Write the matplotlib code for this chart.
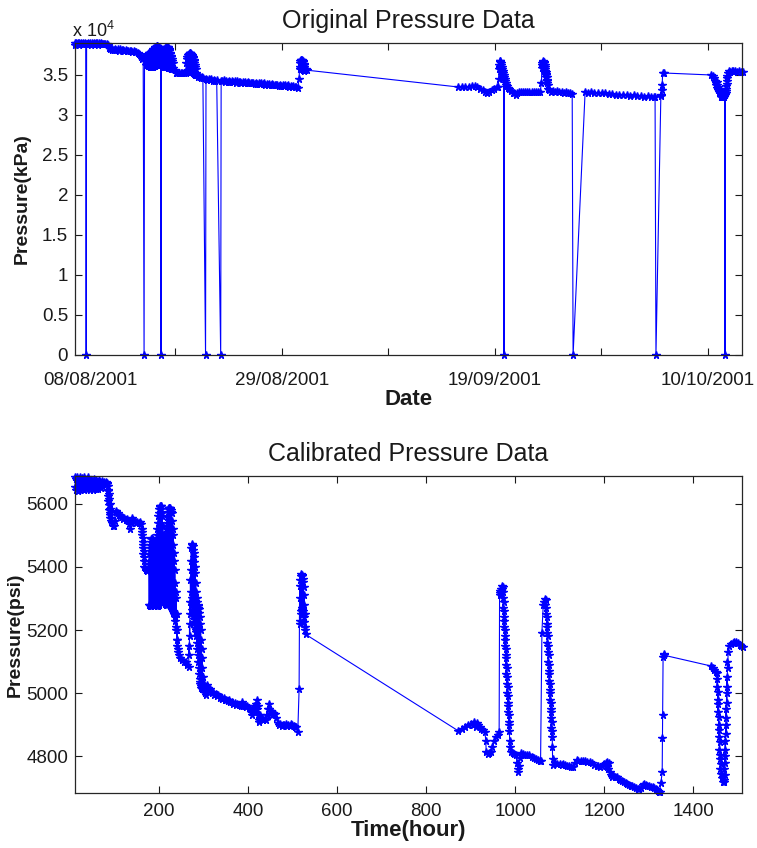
import matplotlib
matplotlib.use('Agg')
import matplotlib.pyplot as plt
from matplotlib.ticker import FuncFormatter

plt.rcParams['font.family'] = ['Liberation Sans', 'DejaVu Sans']
plt.rcParams['mathtext.fontset'] = 'custom'
plt.rcParams['mathtext.rm'] = 'Liberation Sans'
plt.rcParams['mathtext.it'] = 'Liberation Sans'

# ---------------- Original pressure data (hour, kPa) ----------------
orig_a = [(12,38950),(13,38800),(14,38980),(16,38850),(18,38950),(20,38800),(22,38990),(24,38850),
          (26,38950),(28,38820),(30,38980),(32,38850),(34,38950),(36,38880),(37,0),(38,38900),
          (40,38820),(42,38960),(44,38850),(46,38950),(48,38800),(50,38980),(52,38850),(54,38940),
          (56,38820),(58,38970),(60,38850),(62,38950),(64,38800),(66,38960),(68,38850),(70,38940),
          (72,38820),(74,38930),(77,38850),(80,38900),(83,38820),(86,38700)]
orig_b = [(88,38400),(90,38200),(92,38350),(94,38100),(96,38300),(99,38150),(102,38250),(105,38100),
          (108,38200),(111,38050),(114,38200),(117,38100),(120,38150),(123,38000),(126,38100),
          (129,38000),(132,38050),(135,37950),(138,38050),(141,37900),(144,37950),(147,37850),
          (150,37900),(153,37800),(156,37600),(159,37300),(162,37000),(165,37200),(167,0),
          (168,37100),(170,36700)]
orig_c = [(171,37200),(171.5,36300),(172,37300),(172.5,36300),(173,37400),(173.5,36250),(174,37450),
          (174.5,36200),(175,37500),(175.5,36200),(176,37600),(176.5,36150),(177,37650),(177.5,36100),
          (178,37700),(178.5,36100),(179,37750),(179.5,36100),(180,37800),(180.5,36050),(181,37800),
          (181.5,36050),(182,37850),(182.5,36000),(183,37900),(183.5,36000),(184,37950),(184.5,36000),
          (185,38000),(185.5,36000),(186,38050),(186.5,36050),(187,38100),(187.5,36050),(188,38200),
          (188.5,36100),(189,38250),(189.5,36100),(190,38300),(190.5,36150),(191,38400),(191.5,36150),
          (192,38450),(192.5,36200),(193,38500),(193.5,36200),(194,38550),(194.5,36250),(195,38600),
          (195.5,36300),(196,38600),(196.5,36300),(197,38600),(197.5,36350),(198,38550),(198.5,36400),
          (199,38500),(199.5,36400),(200,38450),(200.5,36350),(201,38350),(201.5,36300),(202,38300),
          (202.5,36300),(203,38100),(203.5,36250),(204,37900),(205,0),(206,37800),(206.5,36200),
          (207,37750),(207.5,36200),(208,37700),(208.5,36150),(209,37750),(209.5,36100),(210,37850),
          (210.5,36100),(211,37950),(211.5,36100),(212,38050),(212.5,36050),(213,38150),(213.5,36050),
          (214,38250),(214.5,36000),(215,38350),(215.5,36000),(216,38400),(216.5,36000),(217,38450),
          (217.5,36000),(218,38500),(218.5,35950),(219,38500),(219.5,35950),(220,38450),(220.5,35950),
          (221,38400),(221.5,35900),(222,38300),(222.5,35900),(223,38150),(223.5,35900),(224,38000),
          (224.5,35850),(225,37800),(225.5,35850),(226,37600),(226.5,35800),(227,37400),(227.5,35800),
          (228,37200),(228.5,35750),(229,37000),(229.5,35700),(230,36800),(230.5,35700),(231,36500)]
orig_d = [(233,35900),(236,35600),(239,35300),(242,35200),(245,35300),(249,35200),(253,35250),
          (257,35200),(260,35300),(262,36500),(262.5,35400),(263,37000),(263.5,35450),(264,37300),
          (264.5,35500),(265,37450),(265.5,35550),(266,37550),(266.5,35600),(267,37600),(267.5,35600),
          (268,37650),(268.5,35600),(269,37700),(269.5,35600),(270,37700),(270.5,35550),(271,37700),
          (271.5,35500),(272,37650),(272.5,35500),(273,37600),(273.5,35450),(274,37500),(274.5,35400),
          (275,37400),(275.5,35350),(276,37250),(276.5,35300),(277,37100),(277.5,35250),(278,36900),
          (278.5,35200),(279,36700),(279.5,35150),(280,36500),(280.5,35100),(281,36300),(281.5,35050),
          (282,36000),(282.5,35000),(283,35800),(284,35300),(286,35000),(289,34800),(292,34700),
          (295,34600),(297,34700),(299,34600),(305,0),(306,34500)]
orig_e = [(309,34400),(312,34500),(315,34350),(318,34450),(321,34300),(324,34400),(327,34300),
          (330,34400),(339,0),(340,34300),(343,34200),(346,34350),(349,34150),(352,34300),
          (355,34150),(358,34250),(361,34100),(364,34250),(367,34100),(370,34200),(373,34050),
          (376,34200),(379,34100),(382,34150),(385,34000),(388,34150),(391,34050),(394,34100),
          (397,34000),(400,34100),(403,33950),(406,34050),(409,33950),(412,34050),(415,33900),
          (418,34000),(421,33900),(424,34000),(427,33850),(430,33950),(433,33850),(436,33950),
          (439,33800),(442,33900),(445,33750),(448,33900),(451,33750),(454,33850),(457,33700),
          (460,33800),(463,33700),(466,33800),(469,33650),(472,33750),(475,33600),(478,33750),
          (481,33650),(484,33700),(487,33600),(490,33700),(493,33550),(496,33650),(499,33550),
          (502,33600),(505,33500),(508,33550),(512,33400)]
orig_f = [(515,34500),(516,36000),(516.5,35800),(517,36500),(517.5,35750),(518,36700),(518.5,35700),
          (519,36850),(519.5,35750),(520,36900),(520.5,35800),(521,36850),(521.5,35750),(522,36800),
          (522.5,35700),(523,36700),(523.5,35650),(524,36600),(524.5,35600),(525,36400),(525.5,35600),
          (526,36200),(526.5,35550),(527,36000),(528,35600),(530,35700),(533,35600)]
orig_g = [(872,33500),(880,33550),(888,33500),(896,33550),(903,33600),(909,33600),(915,33450),
          (921,33300),(927,33100),(932,32900),(936,32800),(941,32900),(947,33100),(953,33300),
          (959,33450),(962,33550),(963,34500),(964,36200),(964.5,35800),(965,36700),(965.5,36000),
          (966,36600),(966.5,35900),(967,36700),(967.5,35800),(968,36500),(968.5,35600),(969,36200),
          (969.5,35400),(970,36000),(970.5,35200),(971,35800),(971.5,35000),(972,35500),(972.5,34800),
          (973,35300),(973.5,34600),(974,35000),(975,0),(976,34800),(977,34200),(978,34500),
          (979,33800),(980,34000),(981,33600),(983,33400),(986,33200),(990,33000),(994,32800),
          (998,32700),(1001,32500),(1004,32700),(1008,32900),(1012,32900),(1017,32850),(1022,32900),
          (1027,32850),(1032,32900),(1037,32850),(1042,32900),(1047,32850),(1052,32900),(1056,32900)]
orig_h = [(1059,34000),(1060,36300),(1060.5,35900),(1061,36500),(1061.5,36000),(1062,36600),
          (1062.5,36100),(1063,36700),(1063.5,36200),(1064,36600),(1064.5,36000),(1065,36500),
          (1065.5,35800),(1066,36200),(1066.5,35500),(1067,36000),(1067.5,35300),(1068,35700),
          (1068.5,35000),(1069,35400),(1069.5,34700),(1070,35100),(1070.5,34400),(1071,34700),
          (1071.5,34000),(1072,34300),(1073,33700),(1074,33300),(1077,33100),(1081,32900),
          (1085,33000),(1089,32900),(1094,32950),(1099,32850),(1104,32900),(1109,32800),(1114,32850),
          (1119,32750),(1124,32700),(1128,32600),(1130,0),(1157,32900),(1163,32800),(1170,32900),
          (1178,32800),(1186,32750),(1194,32700),(1202,32750),(1210,32600),(1218,32650),(1226,32500),
          (1234,32550),(1242,32450),(1250,32500),(1258,32400),(1266,32450),(1274,32350),(1282,32400),
          (1290,32300),(1298,32350),(1306,32250),(1311,32300),(1314,32200),(1316,0),(1327,32400),
          (1328,32500),(1329,33100),(1330,33800),(1331,35200),(1334,35250)]
orig_i = [(1440,35000),(1443,34900),(1446,34600),(1448,34300),(1450,34000),(1451,33700),(1452,34100),
          (1453,33400),(1454,33800),(1455,33100),(1456,33500),(1457,32900),(1458,33300),(1459,32700),
          (1460,33100),(1461,32500),(1462,32800),(1463,32300),(1464,32600),(1465,32300),(1466,32500),
          (1467,32200),(1468,32400),(1469,32300),(1470,32600),(1471,0),(1472,32500),(1472.5,33000),
          (1473,32800),(1473.5,33600),(1474,33300),(1474.5,34300),(1475,33900),(1475.5,34900),
          (1476,34600),(1477,35300),(1479,35500),(1482,35400),(1486,35500),(1490,35450),(1494,35500),
          (1498,35400),(1502,35450),(1506,35400),(1511,35400)]

# ---------------- Calibrated pressure data (hour, psi) ----------------
cal_a = [(12,5684),(13,5652),(14,5678),(15,5645),(16,5684),(17,5650),(18,5672),(19,5642),(21,5678),
         (22,5650),(23,5685),(24,5645),(26,5670),(27,5648),(28,5682),(29,5652),(31,5674),(32,5644),
         (33,5686),(34,5655),(36,5668),(37,5646),(39,5678),(40,5650),(42,5684),(43,5655),(45,5670),
         (46,5645),(48,5676),(49,5650),(51,5672),(52,5643),(54,5680),(55,5652),(57,5668),(58,5646),
         (60,5675),(61,5650),(63,5670),(64,5648),(66,5676),(67,5652),(69,5668),(70,5650),(72,5672),
         (73,5655),(75,5666),(77,5670),(79,5662),(81,5668),(83,5665)]
cal_b = [(84,5662),(85,5640),(85.5,5655),(86,5625),(86.5,5645),(87,5610),(87.5,5630),(88,5595),
         (88.5,5615),(89,5580),(89.5,5600),(90,5565),(90.5,5585),(91,5555),(91.5,5570),(92,5545),
         (93,5555),(95,5540),(97,5530),(99,5528),(101,5545),(103,5575),(105,5578),(108,5570),
         (111,5566),(114,5562),(117,5558),(120,5552),(123,5556),(126,5548),(129,5552),(132,5545),
         (134,5535),(136,5520),(138,5540),(140,5555),(143,5550),(146,5545),(149,5540),(152,5543),
         (155,5538),(158,5542),(161,5536)]
cal_c = [(162,5520),(162.5,5500),(163,5510),(163.5,5480),(164,5490),(164.5,5460),(165,5470),
         (165.5,5440),(166,5450),(166.5,5420),(167,5430),(167.5,5400),(169,5395),(171,5390),
         (173,5388),(175,5395),(177,5400)]
cal_d = [(178,5420),(178.5,5280),(179,5440),(179.5,5278),(180,5460),(180.5,5276),(181,5470),
         (181.5,5275),(182,5480),(182.5,5275),(183,5488),(183.5,5276),(184,5492),(184.5,5278),
         (185,5488),(185.5,5280),(186,5484),(186.5,5284),(187,5480),(187.5,5286),(188,5470),
         (188.5,5288),(189,5460),(189.5,5290),(190,5450),(190.5,5288),(191,5445),(191.5,5285),
         (192,5442),(192.5,5282),(193,5440),(193.5,5280),(194,5460),(194.5,5278),(195,5480),
         (195.5,5276),(196,5500),(196.5,5275),(197,5520),(197.5,5276),(198,5540),(198.5,5278),
         (199,5560),(199.5,5280),(200,5572),(200.5,5284),(201,5582),(201.5,5288),(202,5590),
         (202.5,5292),(203,5593),(203.5,5296),(204,5594),(204.5,5300),(205,5594),(205.5,5300),
         (206,5585),(206.5,5300),(207,5572),(207.5,5300),(208,5560),(208.5,5298),(209,5530),
         (209.5,5295),(210,5500),(210.5,5292),(211,5480),(211.5,5290),(212,5475),(212.5,5288),
         (213,5472),(213.5,5286),(214,5470),(214.5,5284),(215,5490),(215.5,5282),(216,5505),
         (216.5,5280),(217,5520),(217.5,5280),(218,5540),(218.5,5282),(219,5558),(219.5,5284),
         (220,5575),(220.5,5286),(221,5582),(221.5,5288),(222,5586),(222.5,5290),(223,5588),
         (223.5,5288),(224,5587),(224.5,5285),(225,5586),(225.5,5282),(226,5585),(226.5,5280),
         (227,5580),(227.5,5276),(228,5575),(228.5,5272),(229,5570),(229.5,5268),(230,5545),
         (230.5,5264),(231,5520),(231.5,5260),(232,5500),(232.5,5256),(233,5470),(233.5,5252),
         (234,5445),(234.5,5250),(235,5420),(235.5,5248),(236,5390)]
cal_e = [(236.5,5240),(237,5350),(237.5,5230),(238,5320),(238.5,5210),(239,5300),(239.5,5200),
         (240,5250),(240.5,5170),(241,5200),(241.5,5150),(242,5170),(243,5130),(244,5140),
         (246,5120),(248,5110),(252,5105),(256,5100),(260,5098),(264,5090),(267,5084)]
cal_f = [(268,5150),(268.5,5120),(269,5220),(269.5,5180),(270,5290),(270.5,5250),(271,5360),
         (271.5,5320),(272,5420),(272.5,5390),(273,5460),(273.5,5300),(274,5472),(274.5,5280),
         (275,5470),(275.5,5265),(276,5465),(276.5,5255),(277,5455),(277.5,5245),(278,5445),
         (278.5,5235),(279,5430),(279.5,5225),(280,5415),(280.5,5215),(281,5400),(281.5,5205),
         (282,5380),(282.5,5200),(283,5350),(283.5,5195),(284,5320),(284.5,5180),(285,5300),
         (285.5,5160),(286,5290),(286.5,5140),(287,5280),(287.5,5120),(288,5275),(288.5,5100),
         (289,5270),(289.5,5080),(290,5268),(290.5,5060),(291,5255),(291.5,5045),(292,5240),
         (292.5,5035),(293,5220),(293.5,5028),(294,5200),(294.5,5022),(295,5170),(295.5,5018),
         (296,5140),(296.5,5015),(297,5110),(297.5,5012),(298,5080),(299,5015),(300,5050)]
cal_g = [(302,5030),(304,5000),(306,4994),(308,5025),(310,5018),(313,5008),(316,5012),(319,5000),
         (322,5004),(325,4995),(328,4998),(331,4990),(334,4993),(337,4985),(340,4988),(343,4982),
         (346,4984),(349,4978),(352,4980),(355,4975),(358,4977),(361,4971),(364,4973),(367,4967),
         (370,4970),(373,4964),(376,4966),(379,4962),(382,4964),(385,4960),(387,4972),(390,4960),
         (393,4962),(396,4956),(399,4958),(402,4954),(405,4950),(408,4940),(410,4932),(412,4950),
         (414,4960),(416,4940),(418,4965),(420,4978),(421,4950),(422,4930),(423,4960),(424,4915),
         (425,4908),(427,4930),(429,4918),(432,4922),(435,4916),(438,4918),(441,4914),(444,4930),
         (446,4950),(447,4966),(448,4950),(450,4935),(452,4945),(454,4930),(456,4938),(459,4934),
         (462,4934),(464,4920),(467,4905),(470,4899),(473,4902),(476,4897),(479,4900),(482,4898),
         (485,4901),(488,4896),(491,4900),(494,4897),(497,4902),(500,4899),(503,4895),(506,4892),
         (509,4893),(512,4876)]
cal_h = [(515,5013),(516,5300),(516.5,5220),(517,5340),(517.5,5230),(518,5360),(518.5,5250),
         (519,5370),(519.5,5260),(520,5377),(520.5,5270),(521,5375),(521.5,5270),(522,5372),
         (522.5,5265),(523,5362),(523.5,5260),(524,5352),(524.5,5250),(525,5335),(525.5,5240),
         (526,5310),(526.5,5225),(527,5280),(527.5,5210),(528,5250),(529,5200),(530,5186)]
cal_i = [(872,4881),(880,4886),(888,4893),(895,4898),(900,4903),(905,4900),(908,4910),(911,4892),
         (914,4906),(917,4898),(920,4894),(924,4888),(928,4884),(932,4878),(934,4850),(935,4814),
         (938,4806),(941,4809),(945,4815),(949,4830),(953,4848),(957,4862),(961,4869),(964,4878),
         (965,5310),(966,5325),(967,5318),(968,5330),(969,5322),(970,5338),(971,5330),(972,5335),
         (972.5,5300),(973,5320),(973.5,5270),(974,5290),(974.5,5240),(975,5260),(975.5,5210),
         (976,5230),(976.5,5180),(977,5200),(977.5,5150),(978,5170),(978.5,5120),(979,5140),
         (979.5,5090),(980,5110),(980.5,5060),(981,5080),(981.5,5030),(982,5050),(982.5,5000),
         (983,5020),(983.5,4970),(984,4990),(984.5,4940),(985,4960),(985.5,4910),(986,4930),
         (986.5,4880),(987,4900),(987.5,4850),(988,4830),(990,4814),(994,4812),(998,4808),
         (1002,4803),(1004,4780),(1006,4760),(1007,4750),(1008,4770),(1010,4795),(1013,4809),
         (1017,4806),(1022,4805),(1027,4804),(1032,4803),(1037,4798),(1042,4795),(1047,4792),
         (1052,4788),(1055,4785),(1057,4784)]
cal_j = [(1060,5192),(1063,5280),(1065,5290),(1067,5299),(1068,5280),(1069,5295),(1069.5,5250),
         (1070,5270),(1070.5,5220),(1071,5240),(1071.5,5190),(1072,5210),(1072.5,5160),(1073,5180),
         (1073.5,5130),(1074,5150),(1074.5,5100),(1075,5120),(1075.5,5070),(1076,5090),(1076.5,5040),
         (1077,5060),(1077.5,5010),(1078,5030),(1078.5,4980),(1079,5000),(1079.5,4950),(1080,4970),
         (1080.5,4920),(1081,4940),(1081.5,4890),(1082,4910),(1082.5,4860),(1083,4880),(1083.5,4830),
         (1084,4790),(1085,4771),(1090,4778),(1095,4776),(1100,4775),(1104,4773),(1108,4777),
         (1112,4772),(1116,4770),(1120,4768),(1125,4767),(1130,4766),(1134,4778),(1138,4787),
         (1142,4786),(1147,4785),(1152,4784),(1157,4784),(1162,4783),(1168,4782),(1173,4778),
         (1178,4774),(1183,4770),(1187,4768),(1191,4766),(1195,4770),(1199,4775),(1203,4778),
         (1205,4765),(1206,4782),(1208,4760),(1210,4778),(1212,4750),(1214,4740),(1217,4734),
         (1220,4740),(1224,4735),(1228,4734),(1232,4728),(1236,4724),(1240,4722),(1244,4718),
         (1248,4714),(1252,4711),(1256,4709),(1259,4707),(1263,4705),(1267,4702),(1271,4700),
         (1275,4698),(1279,4697),(1283,4700),(1286,4708),(1289,4713),(1293,4708),(1297,4706),
         (1301,4705),(1305,4704),(1309,4702),(1312,4700),(1315,4697),(1318,4693),(1320,4689),
         (1322,4686),(1324,4688),(1327,4715),(1330,4750),(1330.5,4857),(1331,4932),(1332,5115),
         (1333,5125),(1335,5120)]
cal_k = [(1440,5086),(1444,5080),(1447,5072),(1450,5066),(1453,5064),(1453.5,5020),(1454,5045),
         (1454.5,4980),(1455,5005),(1455.5,4940),(1456,4965),(1456.5,4900),(1457,4925),(1457.5,4860),
         (1458,4885),(1458.5,4820),(1459,4845),(1459.5,4790),(1460,4805),(1460.5,4760),(1461,4775),
         (1462,4745),(1464,4730),(1466,4720),(1468,4718),(1469,4725),(1469.5,4760),(1470,4740),
         (1470.5,4800),(1471,4780),(1471.5,4850),(1472,4820),(1472.5,4900),(1473,4870),(1473.5,4950),
         (1474,4920),(1474.5,5000),(1475,4970),(1475.5,5050),(1476,5020),(1476.5,5100),(1477,5080),
         (1478,5130),(1480,5150),(1484,5155),(1488,5158),(1492,5162),(1496,5163),(1500,5158),
         (1504,5152),(1508,5148),(1511,5147)]

orig_segments = [orig_a, orig_b, orig_c, orig_d, orig_e, orig_f, orig_g, orig_h, orig_i]
cal_segments = [cal_a, cal_b, cal_c, cal_d, cal_e, cal_f, cal_g, cal_h, cal_i, cal_j, cal_k]

date_tick_hours = [46, 237, 476, 715, 954, 1193, 1432]
date_tick_labels = ['08/08/2001', '', '29/08/2001', '', '19/09/2001', '', '10/10/2001']
kpa_ticks = [0, 5000, 10000, 15000, 20000, 25000, 30000, 35000]
hour_ticks = [200, 400, 600, 800, 1000, 1200, 1400]
psi_ticks = [4800, 5000, 5200, 5400, 5600]


def unzip(segments):
    xs, ys = [], []
    for seg in segments:
        for x, y in seg:
            xs.append(x)
            ys.append(y)
    return xs, ys


ox, oy = unzip(orig_segments)
cx, cy = unzip(cal_segments)

BLUE = (0, 0, 1)
TXT = '#1a1a1a'
fig = plt.figure(figsize=(7.57, 8.48), dpi=100)
ax1 = fig.add_axes([0.0991, 0.5814, 0.881, 0.3679])
ax2 = fig.add_axes([0.0991, 0.0649, 0.881, 0.3738])

line_kw = dict(color=BLUE, lw=0.8, marker='*', ms=5.5, mew=1.0, clip_on=False)
ax1.plot(ox, oy, **line_kw)
ax2.plot(cx, cy, **line_kw)

for ax in (ax1, ax2):
    ax.tick_params(direction='in', top=True, right=True, length=5, width=0.8,
                   labelsize=13.5, colors=TXT)
    ax.tick_params(axis='y', pad=5)
    for s in ax.spines.values():
        s.set_linewidth(0.9)
        s.set_color('#262626')

ax1.set_xlim(12, 1509)
ax1.set_ylim(0, 39000)
ax1.set_xticks(date_tick_hours)
ax1.set_xticklabels(date_tick_labels)
ax1.tick_params(axis='x', pad=12.5)
t0 = ax1.xaxis.get_major_ticks()[0]
t0.tick1line.set_visible(False)
t0.tick2line.set_visible(False)
ax1.set_yticks(kpa_ticks)
ax1.yaxis.set_major_formatter(FuncFormatter(lambda v, p: '%g' % (v / 1e4)))
ax1.text(-0.005, 1.006, r'x 10$^{4}$', transform=ax1.transAxes, ha='left', va='bottom',
         fontsize=13, color=TXT)
ax1.set_title('Original Pressure Data', fontsize=18, pad=11, color=TXT)
ax1.set_xlabel('Date', fontsize=16, fontweight='bold', labelpad=0, color=TXT)
ax1.set_ylabel('Pressure(kPa)', fontsize=14, fontweight='bold', labelpad=8, color=TXT)

ax2.set_xlim(12, 1509)
ax2.set_ylim(4684, 5688)
ax2.set_xticks(hour_ticks)
ax2.set_yticks(psi_ticks)
ax2.tick_params(axis='x', pad=7.5)
ax2.set_title('Calibrated Pressure Data', fontsize=18, pad=11, color=TXT)
ax2.set_xlabel('Time(hour)', fontsize=16, fontweight='bold', labelpad=0, color=TXT)
ax2.set_ylabel('Pressure(psi)', fontsize=14, fontweight='bold', labelpad=2, color=TXT)

fig.savefig('out.png', dpi=100)
